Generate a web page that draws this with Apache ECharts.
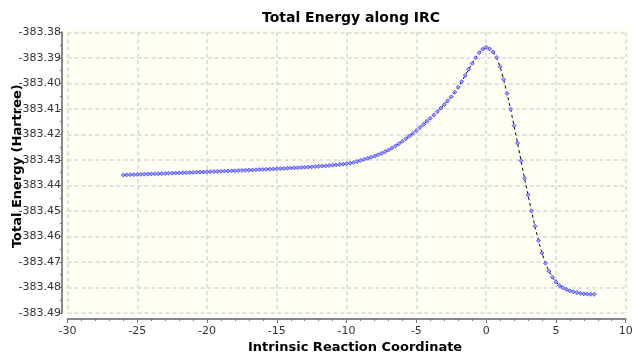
<!DOCTYPE html>
<html>
<head>
<meta charset="utf-8">
<script src="https://cdn.jsdelivr.net/npm/echarts@6/dist/echarts.min.js"></script>
<style>
html,body{margin:0;padding:0;background:#fff;}
#chart{width:635px;height:354px;}
</style>
</head>
<body>
<div id="chart"></div>
<script>
const titleText = 'Total Energy along IRC';
const xAxisName = 'Intrinsic Reaction Coordinate';
const yAxisName = 'Total Energy (Hartree)';

const ircCoord = [
-26.00,-25.75,-25.50,-25.25,-25.00,-24.75,-24.50,-24.25,-24.00,-23.75,-23.50,-23.25,-23.00,-22.75,-22.50,-22.25,
-22.00,-21.75,-21.50,-21.25,-21.00,-20.75,-20.50,-20.25,-20.00,-19.75,-19.50,-19.25,-19.00,-18.75,-18.50,-18.25,
-18.00,-17.75,-17.50,-17.25,-17.00,-16.75,-16.50,-16.25,-16.00,-15.75,-15.50,-15.25,-15.00,-14.75,-14.50,-14.25,
-14.00,-13.75,-13.50,-13.25,-13.00,-12.75,-12.50,-12.25,-12.00,-11.75,-11.50,-11.25,-11.00,-10.75,-10.50,-10.25,
-10.00,-9.75,-9.50,-9.25,-9.00,-8.75,-8.50,-8.25,-8.00,-7.75,-7.50,-7.25,-7.00,-6.75,-6.50,-6.25,
-6.00,-5.75,-5.50,-5.25,-5.00,-4.75,-4.50,-4.25,-4.00,-3.75,-3.50,-3.25,-3.00,-2.75,-2.50,-2.25,
-2.00,-1.75,-1.50,-1.25,-1.00,-0.75,-0.50,-0.25,
0.00,0.25,0.50,0.75,1.00,1.25,1.50,1.75,2.00,2.25,2.50,2.75,3.00,3.25,3.50,3.75,
4.00,4.25,4.50,4.75,5.00,5.25,5.50,5.75,6.00,6.25,6.50,6.75,7.00,7.25,7.50,7.75
];

const totalEnergy = [
-383.43590,-383.43586,-383.43581,-383.43577,-383.43571,-383.43566,-383.43562,-383.43556,-383.43551,-383.43547,-383.43541,-383.43536,-383.43531,-383.43526,-383.43521,-383.43516,
-383.43511,-383.43506,-383.43500,-383.43495,-383.43490,-383.43485,-383.43480,-383.43474,-383.43469,-383.43464,-383.43458,-383.43453,-383.43447,-383.43441,-383.43436,-383.43430,
-383.43424,-383.43418,-383.43412,-383.43406,-383.43400,-383.43394,-383.43388,-383.43381,-383.43375,-383.43368,-383.43361,-383.43355,-383.43348,-383.43341,-383.43334,-383.43327,
-383.43320,-383.43312,-383.43305,-383.43297,-383.43289,-383.43281,-383.43272,-383.43263,-383.43254,-383.43244,-383.43233,-383.43222,-383.43210,-383.43197,-383.43183,-383.43167,
-383.43150,-383.43128,-383.43100,-383.43062,-383.43020,-383.42980,-383.42940,-383.42898,-383.42852,-383.42800,-383.42742,-383.42680,-383.42612,-383.42538,-383.42455,-383.42365,
-383.42270,-383.42170,-383.42068,-383.41962,-383.41852,-383.41735,-383.41612,-383.41490,-383.41370,-383.41242,-383.41110,-383.40972,-383.40830,-383.40682,-383.40530,-383.40350,
-383.40150,-383.39930,-383.39690,-383.39450,-383.39220,-383.39000,-383.38800,-383.38660,
-383.38590,-383.38650,-383.38770,-383.38990,-383.39350,-383.39850,-383.40400,-383.41010,-383.41660,-383.42340,-383.43030,-383.43720,-383.44370,-383.45000,-383.45600,-383.46160,
-383.46650,-383.47050,-383.47360,-383.47600,-383.47780,-383.47920,-383.48010,-383.48080,-383.48130,-383.48170,-383.48200,-383.48230,-383.48250,-383.48260,-383.48270,-383.48270
];

const xMin = -30, xMax = 10, xStep = 5;
const yMin = -383.49, yMax = -383.38, yStep = 0.01;

const seriesData = ircCoord.map((x, i) => [x, totalEnergy[i]]);

const chart = echarts.init(document.getElementById('chart'), null, {renderer: 'canvas'});
const FONT = 'DejaVu Sans';
const gridLine = {show: true, lineStyle: {color: '#d6d6d6', width: 1.5, type: [4, 3]}};

chart.setOption({
  animation: false,
  backgroundColor: '#ffffff',
  title: {
    text: titleText,
    left: 262, top: 11, padding: 0,
    textStyle: {fontFamily: FONT, fontSize: 14, fontWeight: 'bold', color: '#000'}
  },
  graphic: [{
    type: 'rect', z: -100, silent: true,
    shape: {x: 65, y: 27.5, width: 565, height: 289},
    style: {fill: '#fffef2'}
  }],
  grid: {left: 67.5, right: 9.3, top: 32.3, bottom: 41, containLabel: false, outerBoundsMode: 'none'},
  xAxis: {
    type: 'value', min: xMin, max: xMax, interval: xStep,
    offset: 6,
    name: xAxisName, nameLocation: 'middle', nameGap: 22, nameMoveOverlap: false,
    nameTextStyle: {fontFamily: FONT, fontSize: 13, fontWeight: 'bold', color: '#000', padding: [0, 0, 0, 17]},
    axisLine: {show: true, onZero: false, lineStyle: {color: '#888', width: 2}},
    axisTick: {show: true, length: 4, lineStyle: {color: '#777', width: 1}},
    minorTick: {show: true, splitNumber: 5, length: 2, lineStyle: {color: '#777', width: 1}},
    axisLabel: {fontFamily: FONT, fontSize: 11, color: '#333', margin: 7},
    splitLine: gridLine
  },
  yAxis: {
    type: 'value', min: yMin, max: yMax, interval: yStep,
    offset: 5.5,
    name: yAxisName, nameLocation: 'middle', nameGap: 38, nameMoveOverlap: false,
    nameTextStyle: {fontFamily: FONT, fontSize: 13, fontWeight: 'bold', color: '#000', padding: [0, 0, 0, 13]},
    axisLine: {show: true, onZero: false, lineStyle: {color: '#888', width: 2}},
    axisTick: {show: true, length: 3, lineStyle: {color: '#777', width: 1}},
    minorTick: {show: true, splitNumber: 2, length: 2, lineStyle: {color: '#777', width: 1}},
    axisLabel: {fontFamily: FONT, fontSize: 11, color: '#333', margin: 1,
      formatter: v => v.toFixed(2)},
    splitLine: gridLine
  },
  series: [{
    type: 'line',
    data: seriesData,
    symbol: 'diamond',
    symbolSize: 4,
    showAllSymbol: true,
    lineStyle: {color: '#000', width: 1, type: [3, 3]},
    itemStyle: {color: '#a0a0ff', borderColor: '#3030ff', borderWidth: 0.7}
  }]
});
</script>
</body>
</html>
